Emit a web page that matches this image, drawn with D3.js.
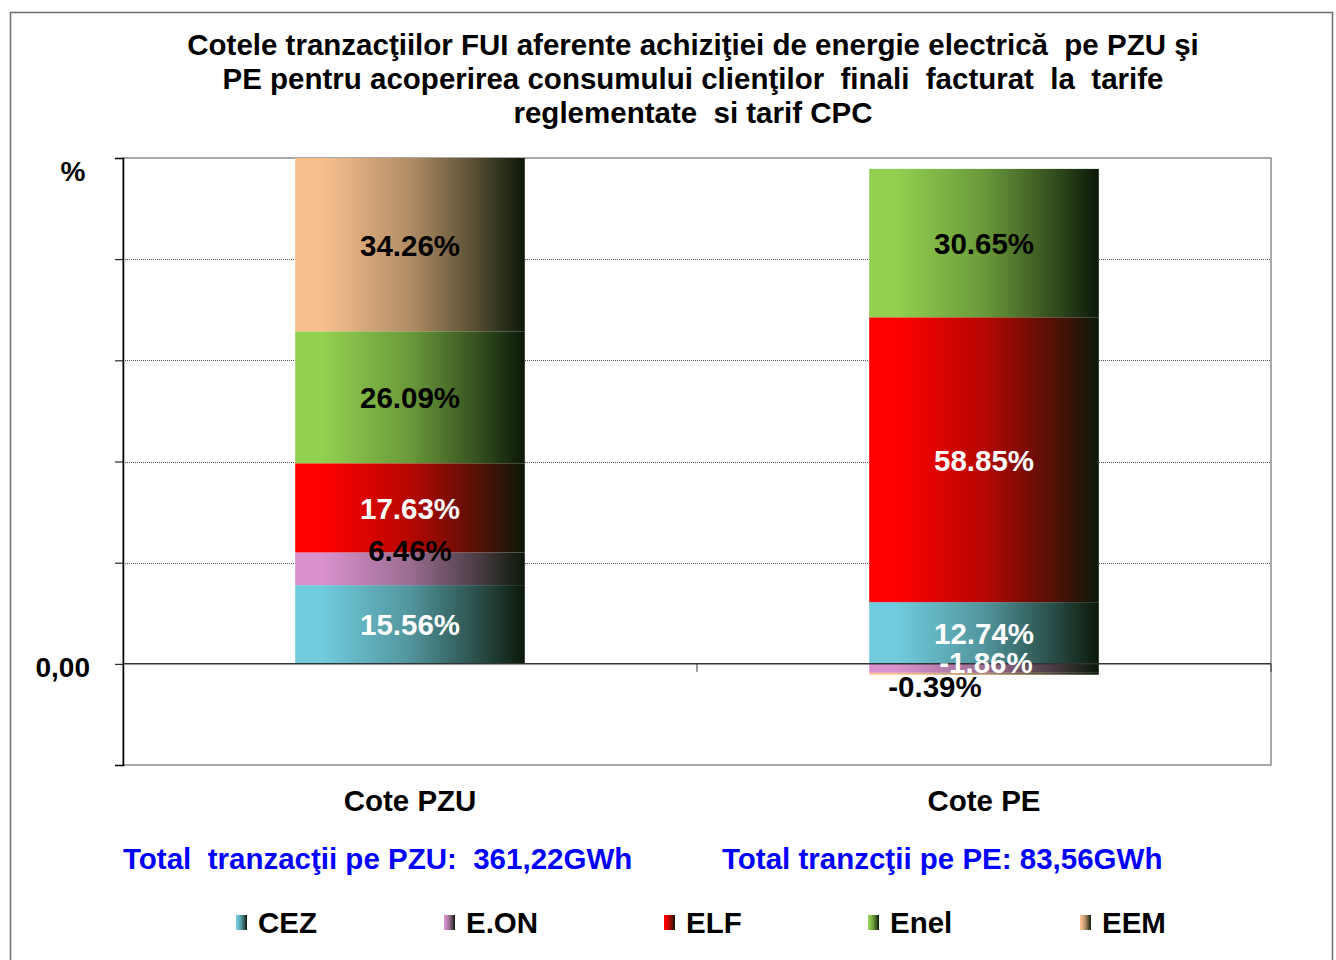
<!DOCTYPE html>
<html>
<head>
<meta charset="utf-8">
<script src="https://cdn.jsdelivr.net/npm/d3@7"></script>
<style>
  body { margin: 0; background: #fff; }
  svg text { font-family: "Liberation Sans", Arial, sans-serif; font-weight: bold; white-space: pre; }
</style>
</head>
<body>
<svg id="chart" width="1336" height="960"></svg>
<script>
// values
const categories = ["Cote PZU", "Cote PE"];
const series = ["CEZ", "E.ON", "ELF", "Enel", "EEM"];
const cez  = [15.56, 12.74];
const eon  = [6.46, -1.86];
const elf  = [17.63, 58.85];
const enel = [26.09, 30.65];
const eem  = [34.26, -0.39];
const totals = ["Total  tranzacţii pe PZU:  361,22GWh", "Total tranzcţii pe PE: 83,56GWh"];
const yTicks = [-20, 0, 20, 40, 60, 80, 100];
const yTickLabels = ["", "0,00", "", "", "", "", "%"];
const titleLines = [
  "Cotele tranzacţiilor FUI aferente achiziţiei de energie electrică  pe PZU şi",
  "PE pentru acoperirea consumului clienţilor  finali  facturat  la  tarife",
  "reglementate  si tarif CPC"
];

const colors = {"CEZ": "#70cbdd", "E.ON": "#d891cd", "ELF": "#ff0000", "Enel": "#92d050", "EEM": "#f8bf8e"};
const labelColor = {"CEZ": "#fff", "E.ON": "#000", "ELF": "#fff", "Enel": "#000", "EEM": "#000"};
const darkEnd = "#0b1808";
const FS = 29.5;

const values = {"CEZ": cez, "E.ON": eon, "ELF": elf, "Enel": enel, "EEM": eem};

// excel 100% stacked: each value over sum of absolute values in its column
const rows = categories.map((c, i) => {
  const sumAbs = d3.sum(series, s => Math.abs(values[s][i]));
  const r = {category: c};
  series.forEach(s => { r[s] = values[s][i] / sumAbs * 100; r[s + "_raw"] = values[s][i]; });
  return r;
});
const stacked = d3.stack().keys(series).offset(d3.stackOffsetDiverging)(rows);

const svg = d3.select("#chart");
const margin = {left: 123, right: 1271, top: 158, bottom: 765};

// outer frame
svg.append("rect").attr("x", 10.5).attr("y", 12.5).attr("width", 1322).attr("height", 960)
  .attr("fill", "#fff").attr("stroke", "#6b6b6b").attr("stroke-width", 1.5);

// title
svg.append("g").selectAll("text").data(titleLines).join("text")
  .attr("x", 693).attr("y", (d, i) => 55 + i * 34)
  .attr("text-anchor", "middle").attr("font-size", FS).attr("fill", "#000")
  .text(d => d);

const x = d3.scaleBand().domain(categories).range([margin.left, margin.right]).paddingInner(0).paddingOuter(0);
const barW = x.bandwidth() / 2.5;
const y = d3.scaleLinear().domain([-20, 100]).range([margin.bottom, margin.top]);

// gradients
const defs = svg.append("defs");
series.forEach((s, i) => {
  const g = defs.append("linearGradient").attr("id", "grad" + i)
    .attr("x1", "0%").attr("x2", "100%").attr("y1", "0%").attr("y2", "0%");
  const c = colors[s];
  const mix = d3.interpolateRgb(c, darkEnd);
  g.append("stop").attr("offset", "0%").attr("stop-color", c);
  g.append("stop").attr("offset", "12%").attr("stop-color", c);
  g.append("stop").attr("offset", "50%").attr("stop-color", mix(0.3));
  g.append("stop").attr("offset", "80%").attr("stop-color", mix(0.7));
  g.append("stop").attr("offset", "100%").attr("stop-color", darkEnd);
});

// plot area
svg.append("rect").attr("x", margin.left).attr("y", margin.top)
  .attr("width", margin.right - margin.left).attr("height", margin.bottom - margin.top)
  .attr("fill", "#fff").attr("stroke", "#8c8c8c").attr("stroke-width", 1.5);

// gridlines
svg.append("g").selectAll("line").data(yTicks.filter(t => t !== 0 && t !== -20 && t !== 100)).join("line")
  .attr("x1", margin.left).attr("x2", margin.right)
  .attr("y1", d => Math.round(y(d)) + 0.5).attr("y2", d => Math.round(y(d)) + 0.5)
  .attr("stroke", "#555").attr("stroke-width", 1).attr("stroke-dasharray", "1,1");

// y axis
const yAxis = d3.axisLeft(y).tickValues(yTicks).tickSize(8).tickFormat("");
const ya = svg.append("g").attr("transform", `translate(${margin.left},0)`).call(yAxis);
ya.select(".domain").attr("stroke", "#000").attr("stroke-width", 1.5);
ya.selectAll(".tick line").attr("stroke", "#000");

svg.append("g").selectAll("text").data(yTicks).join("text")
  .attr("x", (d, i) => yTickLabels[i] === "%" ? 73 : 90)
  .attr("y", (d, i) => y(d) + 11 + (yTickLabels[i] === "%" ? 12 : 2))
  .attr("text-anchor", (d, i) => yTickLabels[i] === "%" ? "middle" : "end")
  .attr("font-size", 28).attr("fill", "#000")
  .text((d, i) => yTickLabels[i]);

// bars
const layer = svg.append("g").selectAll("g").data(stacked).join("g")
  .attr("fill", (d, i) => `url(#grad${i})`);
layer.selectAll("rect").data(d => d).join("rect")
  .attr("x", d => x(d.data.category) + (x.bandwidth() - barW) / 2)
  .attr("width", barW)
  .attr("y", d => y(Math.max(d[0], d[1])))
  .attr("height", d => Math.abs(y(d[0]) - y(d[1])));

// zero line and category tick
svg.append("line").attr("x1", margin.left).attr("x2", margin.right)
  .attr("y1", y(0)).attr("y2", y(0)).attr("stroke", "#333").attr("stroke-width", 1.5);
svg.append("g").selectAll("line").data([x(categories[1]), margin.right]).join("line")
  .attr("x1", d => d).attr("x2", d => d)
  .attr("y1", y(0)).attr("y2", y(0) + 8).attr("stroke", "#333");

// data labels, a few were nudged by hand in the original
const nudge = {"E.ON|Cote PZU": [0, -19], "E.ON|Cote PE": [2, -6], "EEM|Cote PE": [-49, 12]};
const colorOverride = {"E.ON|Cote PE": "#fff"};
stacked.forEach(sr => {
  const key = d => sr.key + "|" + d.data.category;
  svg.append("g").selectAll("text").data(sr).join("text")
    .attr("x", d => x(d.data.category) + x.bandwidth() / 2 + (nudge[key(d)] || [0, 0])[0])
    .attr("y", d => (y(d[0]) + y(d[1])) / 2 + 11 + (nudge[key(d)] || [0, 0])[1])
    .attr("text-anchor", "middle").attr("font-size", FS)
    .attr("fill", d => colorOverride[key(d)] || labelColor[sr.key])
    .text(d => d.data[sr.key + "_raw"].toFixed(2) + "%");
});

// category labels
svg.append("g").selectAll("text").data(categories).join("text")
  .attr("x", d => x(d) + x.bandwidth() / 2).attr("y", 811)
  .attr("text-anchor", "middle").attr("font-size", FS).attr("fill", "#000")
  .text(d => d);

// totals
const totalX = [123, 722];
svg.append("g").selectAll("text").data(totals).join("text")
  .attr("x", (d, i) => totalX[i]).attr("y", 869)
  .attr("font-size", FS).attr("fill", "#0000ff")
  .text(d => d);

// legend
const legendX = [236, 444, 664, 868, 1080];
const lg = svg.append("g").selectAll("g").data(series).join("g")
  .attr("transform", (d, i) => `translate(${legendX[i]},915)`);
lg.append("rect").attr("width", 11).attr("height", 15).attr("fill", (d, i) => `url(#grad${i})`);
lg.append("text").attr("x", 22).attr("y", 18).attr("font-size", FS).attr("fill", "#000").text(d => d);
</script>
</body>
</html>
